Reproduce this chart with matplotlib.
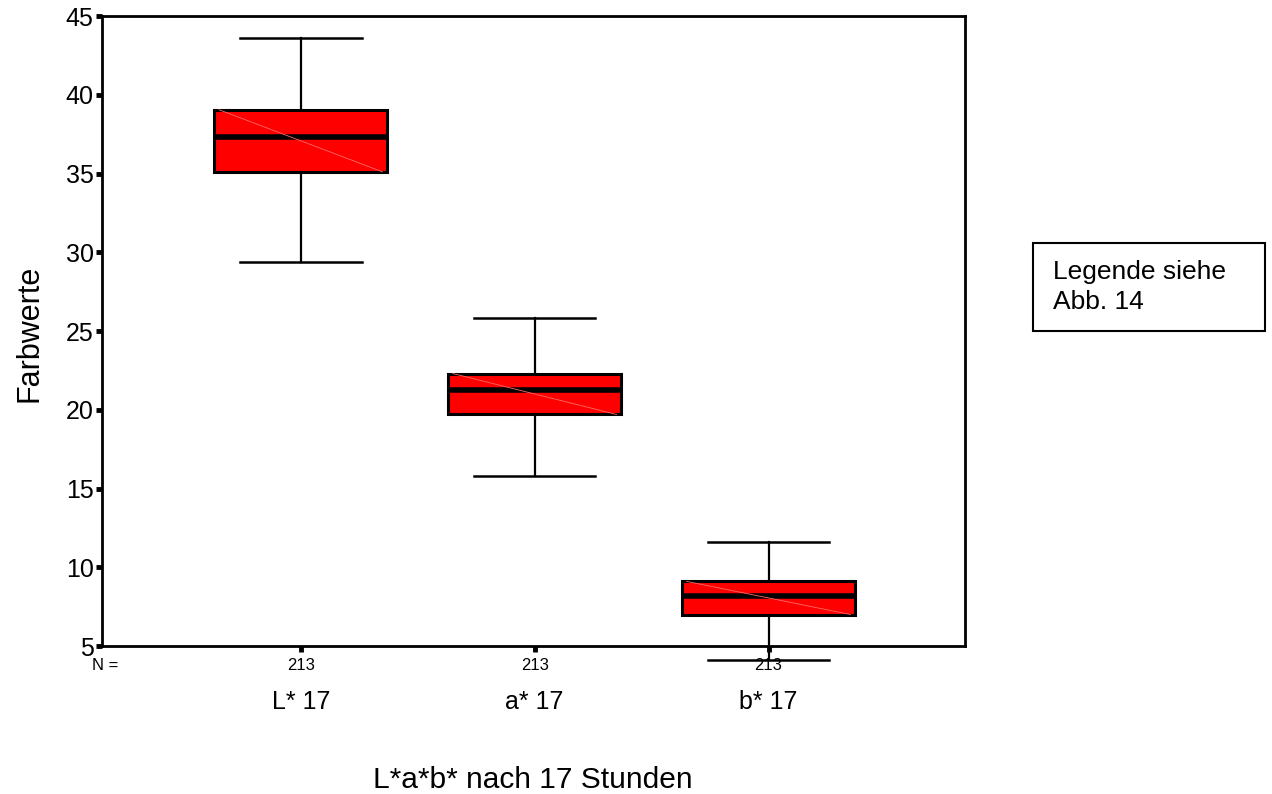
import matplotlib
matplotlib.use("Agg")
import matplotlib.pyplot as plt
from matplotlib.patches import Rectangle

plt.rcParams['font.family'] = ['Liberation Sans', 'DejaVu Sans']

# box statistics
groups = ["L* 17", "a* 17", "b* 17"]
n_counts = [213, 213, 213]
whislo = [29.4, 15.8, 4.1]
q1 = [35.1, 19.7, 7.0]
med = [37.3, 21.25, 8.2]
q3 = [39.05, 22.3, 9.1]
whishi = [43.6, 25.8, 11.6]
yticks = [5, 10, 15, 20, 25, 30, 35, 40, 45]

fig = plt.figure(figsize=(12.72, 7.94), dpi=100)
ax = fig.add_axes([102/1272, 1 - 646/794, (965-102)/1272, (646-16)/794])

stats = []
for i in range(len(groups)):
    stats.append(dict(label=groups[i], whislo=whislo[i], q1=q1[i], med=med[i],
                      q3=q3[i], whishi=whishi[i], fliers=[]))
pos = [1, 2, 3]
bp = ax.bxp(stats, positions=pos, widths=0.74, patch_artist=True, showfliers=False,
            boxprops=dict(facecolor='#ff0000', edgecolor='black', linewidth=2.2),
            medianprops=dict(color='black', linewidth=4),
            whiskerprops=dict(color='black', linewidth=1.6),
            capprops=dict(color='black', linewidth=1.8),
            capwidths=0.52)
for art in bp['whiskers'] + bp['caps']:
    art.set_clip_on(False)

# faint diagonal streak seen inside each box
for p, lo, hi in zip(pos, q1, q3):
    ax.plot([p - 0.35, p + 0.35], [hi, lo], color='#ff6a6a', lw=0.6, zorder=2.5)

ax.set_xlim(0.15, 3.84)
ax.set_ylim(5, 45)
ax.set_yticks(yticks)
ax.set_xticks(pos)
ax.set_xticklabels([])
ax.tick_params(axis='y', direction='out', length=4, width=3.5, labelsize=18, pad=2)
ax.tick_params(axis='x', direction='out', length=4, width=3.5)
for s in ax.spines.values():
    s.set_linewidth(2)

# N row and group names below the axis
for p, n, g in zip(pos, n_counts, groups):
    ax.annotate(str(n), xy=(p, 0), xycoords=('data', 'axes fraction'),
                xytext=(0, -20), textcoords='offset pixels', ha='center', va='center', fontsize=12)
    ax.annotate(g, xy=(p, 0), xycoords=('data', 'axes fraction'),
                xytext=(0, -56), textcoords='offset pixels', ha='center', va='center', fontsize=18)
fig.text(92/1272, 1 - 666/794, "N =", ha='left', va='center', fontsize=12)

fig.text(533/1272, 1 - 788/794, "L*a*b* nach 17 Stunden", ha='center', va='baseline', fontsize=21.5)
fig.text(30/1272, 1 - 333/794, "Farbwerte", ha='center', va='center', rotation=90, fontsize=22)

# note box on the right
fig.add_artist(Rectangle((1033/1272, 1 - 331/794), (1265-1033)/1272, (331-243)/794,
                         transform=fig.transFigure, fill=False, edgecolor='black', lw=1.5))
fig.text(1053/1272, 1 - 272/794, "Legende siehe", ha='left', va='center', fontsize=19)
fig.text(1053/1272, 1 - 302/794, "Abb. 14", ha='left', va='center', fontsize=19)

fig.savefig("out.png", dpi=100)
